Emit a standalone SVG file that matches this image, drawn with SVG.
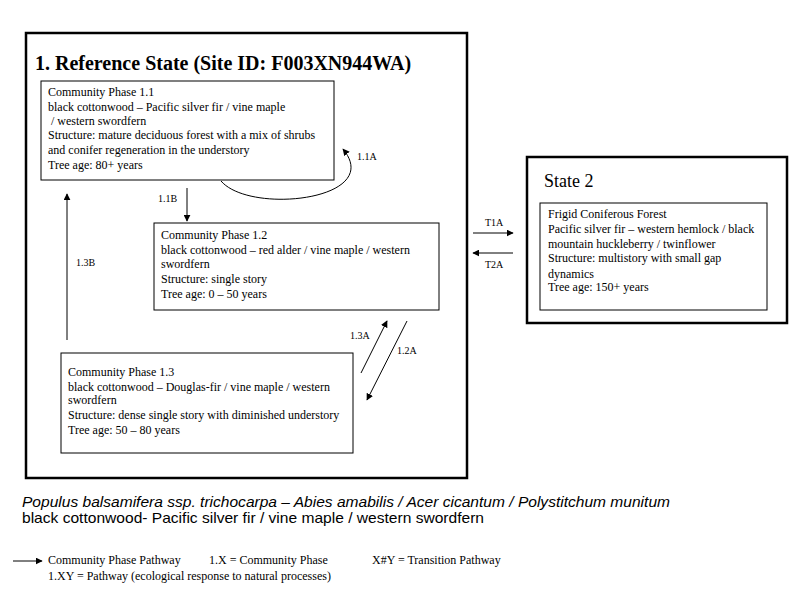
<svg xmlns="http://www.w3.org/2000/svg" width="800" height="600" viewBox="0 0 800 600">
<style>
.t{font-family:"Liberation Serif","Times New Roman",serif;font-size:12px;fill:#000}
.lbl{font-family:"Liberation Serif","Times New Roman",serif;font-size:10px;fill:#000}
.box{fill:#fff;stroke:#000;stroke-width:1}
.state{fill:none;stroke:#000;stroke-width:2.5}
.c{fill:none;stroke:#000;stroke-width:1}
</style>
<defs>
<marker id="ah" viewBox="0 0 10 10" refX="9" refY="5" markerWidth="7" markerHeight="7" orient="auto" markerUnits="userSpaceOnUse">
<path d="M0,0 L10,5 L0,10 z" fill="#000"/>
</marker>
</defs>
<rect width="800" height="600" fill="#fff"/>

<g id="reference-state">
<rect class="state" x="26" y="33" width="441" height="445"/>
<text x="35" y="70" font-family="'Liberation Serif','Times New Roman',serif" font-size="20" font-weight="bold">1. Reference State (Site ID: F003XN944WA)</text>
</g>

<g id="phase-1-1">
<rect class="box" x="41" y="81" width="293" height="99"/>
<text class="t" x="48" y="96">Community  Phase 1.1</text>
<text class="t" x="48" y="111">black cottonwood – Pacific silver  fir  / vine maple</text>
<text class="t" x="51" y="125">/ western swordfern</text>
<text class="t" x="48" y="139">Structure: mature deciduous  forest with  a mix  of shrubs</text>
<text class="t" x="48" y="154">and conifer regeneration in the understory</text>
<text class="t" x="48" y="169">Tree age: 80+  years</text>
</g>

<g id="phase-1-2">
<rect class="box" x="154" y="223" width="285" height="87"/>
<text class="t" x="161" y="239">Community  Phase 1.2</text>
<text class="t" x="161" y="254">black cottonwood – red alder / vine maple /  western</text>
<text class="t" x="161" y="268">swordfern</text>
<text class="t" x="161" y="283">Structure: single  story</text>
<text class="t" x="161" y="298">Tree age: 0 – 50  years</text>
</g>

<g id="phase-1-3">
<rect class="box" x="61" y="353" width="292" height="100"/>
<text class="t" x="68" y="376">Community  Phase 1.3</text>
<text class="t" x="68" y="391">black cottonwood – Douglas-fir  / vine maple / western</text>
<text class="t" x="68" y="404">swordfern</text>
<text class="t" x="68" y="419">Structure: dense single  story with  diminished  understory</text>
<text class="t" x="68" y="434">Tree age: 50  – 80 years</text>
</g>

<g id="state-2">
<rect class="state" x="527" y="157" width="260" height="166" stroke-width="3"/>
<text x="544" y="187" font-family="'Liberation Serif','Times New Roman',serif" font-size="18">State 2</text>
<rect class="box" x="540" y="203" width="227" height="107"/>
<text class="t" x="548" y="218">Frigid  Coniferous  Forest</text>
<text class="t" x="548" y="233">Pacific silver  fir  – western hemlock / black</text>
<text class="t" x="548" y="248">mountain  huckleberry / twinflower</text>
<text class="t" x="548" y="262">Structure: multistory  with  small gap</text>
<text class="t" x="548" y="278">dynamics</text>
<text class="t" x="548" y="291">Tree age: 150+ years</text>
</g>

<g id="connectors">
<path class="c" d="M221,181 C250,215 385,200 343,149" marker-end="url(#ah)"/>
<text class="lbl" x="357" y="160">1.1A</text>
<line class="c" x1="187" y1="188" x2="187" y2="221" marker-end="url(#ah)"/>
<text class="lbl" x="158" y="202">1.1B</text>
<line class="c" x1="67" y1="340" x2="67" y2="194" marker-end="url(#ah)"/>
<text class="lbl" x="76" y="266">1.3B</text>
<line class="c" x1="361" y1="373" x2="387" y2="321" marker-end="url(#ah)"/>
<text class="lbl" x="350" y="339">1.3A</text>
<line class="c" x1="407" y1="321" x2="367" y2="400" marker-end="url(#ah)"/>
<text class="lbl" x="397" y="354">1.2A</text>
<line class="c" x1="473" y1="233" x2="513" y2="233" marker-end="url(#ah)"/>
<text class="lbl" x="485" y="226">T1A</text>
<line class="c" x1="513" y1="253" x2="473" y2="253" marker-end="url(#ah)"/>
<text class="lbl" x="485" y="268">T2A</text>
</g>

<g id="species">
<text x="22" y="507" font-family="'Liberation Sans',Arial,sans-serif" font-size="15" font-style="italic" textLength="648" lengthAdjust="spacingAndGlyphs">Populus balsamifera ssp. trichocarpa – Abies amabilis / Acer cicantum / Polystitchum munitum</text>
<text x="22" y="523" font-family="'Liberation Sans',Arial,sans-serif" font-size="15" textLength="462" lengthAdjust="spacingAndGlyphs">black cottonwood- Pacific silver fir / vine maple / western swordfern</text>
</g>

<g id="legend">
<line class="c" x1="13" y1="561" x2="42" y2="561" marker-end="url(#ah)"/>
<text class="t" x="48" y="564">Community  Phase Pathway</text>
<text class="t" x="209" y="564">1.X = Community  Phase</text>
<text class="t" x="372" y="564">X#Y = Transition  Pathway</text>
<text class="t" x="48" y="580">1.XY = Pathway (ecological response to natural processes)</text>
</g>
</svg>
